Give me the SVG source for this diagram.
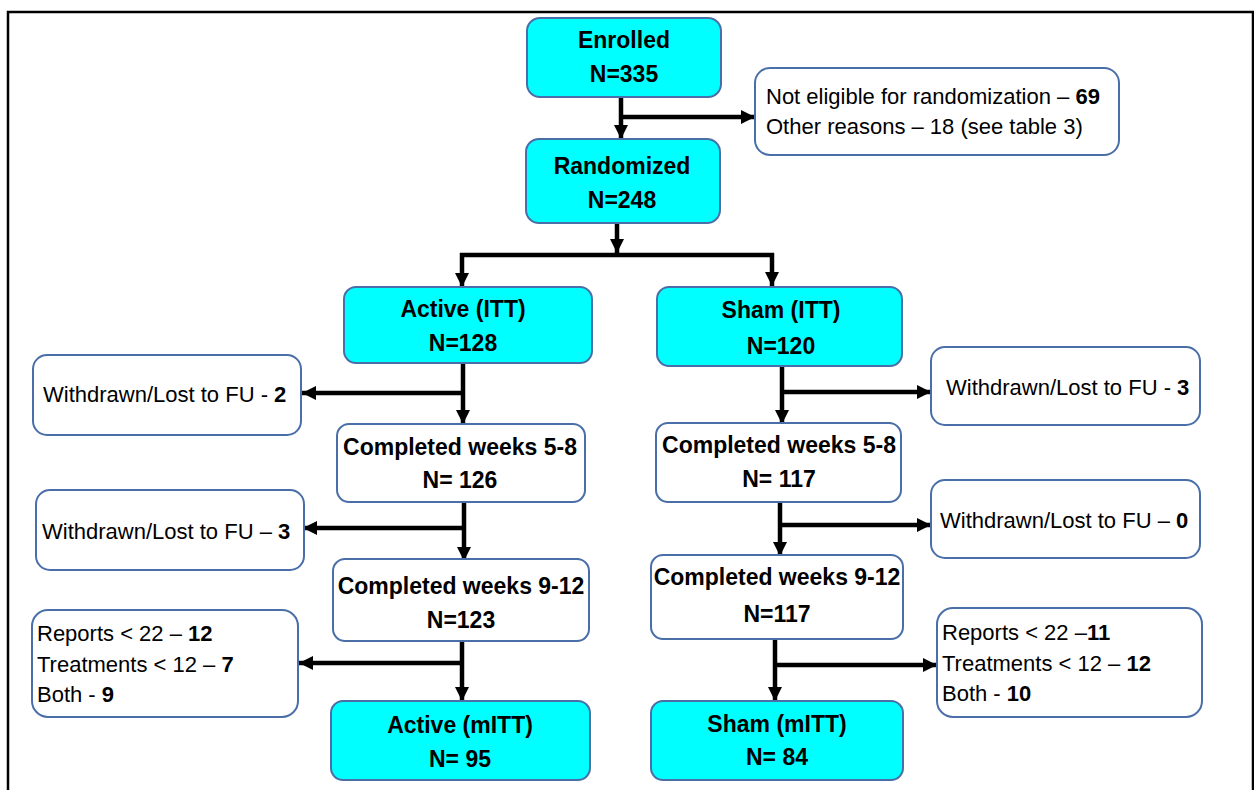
<svg xmlns="http://www.w3.org/2000/svg" width="1254" height="790" viewBox="0 0 1254 790">
<defs>
<style>
.box{fill:#ffffff;stroke:#4a6fa8;stroke-width:2}
.cy{fill:#00ffff;stroke:#4a6fa8;stroke-width:2}
.tb{font-family:"Liberation Sans",Arial,sans-serif;font-weight:bold;font-size:23px;fill:#000;text-anchor:middle}
.tr{font-family:"Liberation Sans",Arial,sans-serif;font-size:22px;fill:#000}
.tr tspan.b{font-weight:bold}
.c{fill:none;stroke:#000;stroke-width:4.5}
</style>
<marker id="ah" markerUnits="userSpaceOnUse" markerWidth="16" markerHeight="16" refX="14" refY="8" orient="auto" viewBox="0 0 16 16">
<path d="M0,1 L14,8 L0,15 Z" fill="#000"/>
</marker>
</defs>
<rect width="1254" height="790" fill="#fff"/>
<path d="M8,790 V12 H1253 V790" fill="none" stroke="#000" stroke-width="2.5"/>

<g id="connectors">
<path class="c" d="M621,97 V139" marker-end="url(#ah)"/>
<path class="c" d="M621,117 H755" marker-end="url(#ah)"/>
<path class="c" d="M617,223 V253" marker-end="url(#ah)"/>
<path class="c" d="M460,255 H774"/>
<path class="c" d="M462,253 V287" marker-end="url(#ah)"/>
<path class="c" d="M772,253 V286" marker-end="url(#ah)"/>
<path class="c" d="M463,363 V424" marker-end="url(#ah)"/>
<path class="c" d="M465,393 H302" marker-end="url(#ah)"/>
<path class="c" d="M464,502 V561" marker-end="url(#ah)"/>
<path class="c" d="M466,528 H303" marker-end="url(#ah)"/>
<path class="c" d="M462,641 V701" marker-end="url(#ah)"/>
<path class="c" d="M464,663 H299" marker-end="url(#ah)"/>
<path class="c" d="M782,366 V424" marker-end="url(#ah)"/>
<path class="c" d="M780,392 H931" marker-end="url(#ah)"/>
<path class="c" d="M780,502 V556" marker-end="url(#ah)"/>
<path class="c" d="M778,525 H931" marker-end="url(#ah)"/>
<path class="c" d="M775,639 V701" marker-end="url(#ah)"/>
<path class="c" d="M773,665 H937" marker-end="url(#ah)"/>
</g>

<g id="enrolled">
<rect class="cy" x="527" y="18" width="194" height="79" rx="13"/>
<text class="tb" x="624" y="48">Enrolled</text>
<text class="tb" x="624" y="82">N=335</text>
</g>

<g id="not-eligible">
<rect class="box" x="755" y="68" width="364" height="87" rx="15"/>
<text class="tr" x="766" y="104">Not eligible for randomization – <tspan class="b">69</tspan></text>
<text class="tr" x="766" y="134">Other reasons – 18 (see table 3)</text>
</g>

<g id="randomized">
<rect class="cy" x="526" y="139" width="194" height="84" rx="13"/>
<text class="tb" x="622" y="174">Randomized</text>
<text class="tb" x="622" y="208">N=248</text>
</g>

<g id="active-itt">
<rect class="cy" x="344" y="287" width="248" height="76" rx="12"/>
<text class="tb" x="463" y="317">Active (ITT)</text>
<text class="tb" x="463" y="351">N=128</text>
</g>

<g id="sham-itt">
<rect class="cy" x="657" y="287" width="245" height="79" rx="12"/>
<text class="tb" x="781" y="318">Sham (ITT)</text>
<text class="tb" x="781" y="354">N=120</text>
</g>

<g id="withdrawn-a1">
<rect class="box" x="33" y="355" width="268" height="80" rx="14"/>
<text class="tr" x="43" y="402">Withdrawn/Lost to FU - <tspan class="b">2</tspan></text>
</g>

<g id="withdrawn-s1">
<rect class="box" x="931" y="347" width="269" height="78" rx="14"/>
<text class="tr" x="946" y="395">Withdrawn/Lost to FU - <tspan class="b">3</tspan></text>
</g>

<g id="active-w58">
<rect class="box" x="337" y="424" width="248" height="78" rx="12"/>
<text class="tb" x="460" y="455">Completed weeks 5-8</text>
<text class="tb" x="460" y="488">N= 126</text>
</g>

<g id="sham-w58">
<rect class="box" x="656" y="423" width="245" height="79" rx="12"/>
<text class="tb" x="779" y="453">Completed weeks 5-8</text>
<text class="tb" x="779" y="487">N= 117</text>
</g>

<g id="withdrawn-a2">
<rect class="box" x="36" y="490" width="268" height="80" rx="14"/>
<text class="tr" x="42" y="539">Withdrawn/Lost to FU – <tspan class="b">3</tspan></text>
</g>

<g id="withdrawn-s2">
<rect class="box" x="931" y="480" width="269" height="78" rx="14"/>
<text class="tr" x="940" y="528">Withdrawn/Lost to FU – <tspan class="b">0</tspan></text>
</g>

<g id="active-w912">
<rect class="box" x="333" y="559" width="256" height="82" rx="12"/>
<text class="tb" x="461" y="594">Completed weeks 9-12</text>
<text class="tb" x="461" y="628">N=123</text>
</g>

<g id="sham-w912">
<rect class="box" x="651" y="555" width="252" height="84" rx="12"/>
<text class="tb" x="777" y="585">Completed weeks 9-12</text>
<text class="tb" x="777" y="622">N=117</text>
</g>

<g id="excluded-a">
<rect class="box" x="32" y="610" width="266" height="107" rx="16"/>
<text class="tr" x="37" y="641">Reports &lt; 22 – <tspan class="b">12</tspan></text>
<text class="tr" x="37" y="672">Treatments &lt; 12 – <tspan class="b">7</tspan></text>
<text class="tr" x="37" y="702">Both - <tspan class="b">9</tspan></text>
</g>

<g id="excluded-s">
<rect class="box" x="937" y="608" width="265" height="109" rx="16"/>
<text class="tr" x="942" y="640">Reports &lt; 22 –<tspan class="b">11</tspan></text>
<text class="tr" x="942" y="671">Treatments &lt; 12 – <tspan class="b">12</tspan></text>
<text class="tr" x="942" y="701">Both - <tspan class="b">10</tspan></text>
</g>

<g id="active-mitt">
<rect class="cy" x="331" y="701" width="259" height="79" rx="12"/>
<text class="tb" x="460" y="733">Active (mITT)</text>
<text class="tb" x="460" y="767">N= 95</text>
</g>

<g id="sham-mitt">
<rect class="cy" x="651" y="701" width="252" height="79" rx="12"/>
<text class="tb" x="777" y="732">Sham (mITT)</text>
<text class="tb" x="777" y="765">N= 84</text>
</g>
</svg>
